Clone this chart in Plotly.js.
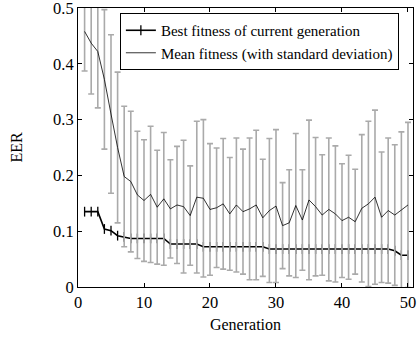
<!DOCTYPE html>
<html>
<head>
<meta charset="utf-8">
<script src="https://cdn.plot.ly/plotly-3.0.1.min.js"></script>
<style>html,body{margin:0;padding:0;background:#fff;}#chart{width:418px;height:338px;}</style>
</head>
<body>
<div id="chart"></div>
<script>
const generations = [1,2,3,4,5,6,7,8,9,10,11,12,13,14,15,16,17,18,19,20,21,22,23,24,25,26,27,28,29,30,31,32,33,34,35,36,37,38,39,40,41,42,43,44,45,46,47,48,49,50];
const bestFitness = [0.135,0.135,0.135,0.104,0.101,0.092,0.090,0.087,0.087,0.087,0.087,0.087,0.087,0.077,0.077,0.077,0.077,0.077,0.072,0.072,0.072,0.072,0.072,0.072,0.072,0.072,0.072,0.072,0.068,0.068,0.068,0.068,0.068,0.068,0.068,0.068,0.068,0.068,0.068,0.068,0.068,0.068,0.068,0.068,0.068,0.068,0.068,0.065,0.057,0.057];
const meanFitness = [0.458,0.437,0.422,0.372,0.310,0.250,0.198,0.189,0.165,0.155,0.166,0.143,0.158,0.140,0.147,0.144,0.128,0.161,0.159,0.139,0.142,0.149,0.131,0.147,0.135,0.140,0.147,0.124,0.137,0.145,0.110,0.115,0.146,0.120,0.156,0.144,0.129,0.139,0.131,0.119,0.125,0.117,0.141,0.149,0.161,0.125,0.137,0.129,0.138,0.147];
const stdFitness = [0.071,0.091,0.101,0.125,0.142,0.135,0.126,0.126,0.114,0.109,0.122,0.102,0.119,0.088,0.105,0.119,0.089,0.136,0.141,0.118,0.107,0.117,0.101,0.120,0.112,0.127,0.134,0.105,0.129,0.137,0.077,0.095,0.129,0.090,0.143,0.124,0.108,0.128,0.122,0.102,0.111,0.094,0.132,0.148,0.156,0.117,0.130,0.126,0.140,0.148];
const xTicks = [0,10,20,30,40,50];
const yTicks = [0,0.1,0.2,0.3,0.4,0.5];
const yTickLabels = ["0","0.1","0.2","0.3","0.4","0.5"];

const font = "Liberation Serif, Times New Roman, serif";

const traces = [
  {
    x: generations, y: bestFitness, type: 'scatter', mode: 'lines+markers',
    name: 'Best fitness of current generation',
    line: {color: 'black', width: 1.6},
    marker: {symbol: 'line-ns', size: 7, color: 'black', line: {color: 'black', width: 1.3}}
  },
  {
    x: generations, y: meanFitness, type: 'scatter', mode: 'lines',
    name: 'Mean fitness (with standard deviation)',
    line: {color: 'black', width: 0.8},
    error_y: {type: 'data', array: stdFitness, visible: true, color: 'rgb(170,170,170)', thickness: 1.6, width: 3}
  }
];

const axisCommon = {
  showline: true, linecolor: 'black', linewidth: 1, mirror: 'ticks',
  ticks: 'inside', ticklen: 4, tickcolor: 'black', tickwidth: 1,
  showgrid: false, zeroline: false, ticklabeloverflow: 'allow',
  tickfont: {family: font, size: 16.5, color: 'black'}
};

const layout = {
  width: 418, height: 338,
  margin: {l: 78, r: 5, t: 8, b: 51},
  paper_bgcolor: 'white', plot_bgcolor: 'white',
  showlegend: true,
  legend: {
    x: 0.125, y: 0.982, xanchor: 'left', yanchor: 'top',
    bgcolor: 'white', bordercolor: 'black', borderwidth: 1,
    font: {family: font, size: 15, color: 'black'},
    tracegroupgap: 0, itemwidth: 30
  },
  xaxis: Object.assign({}, axisCommon, {
    range: [0, 50.76], tickvals: xTicks,
    title: {text: 'Generation', font: {family: font, size: 16, color: 'black'}, standoff: 8}
  }),
  yaxis: Object.assign({}, axisCommon, {
    range: [0, 0.5], tickvals: yTicks, ticktext: yTickLabels,
    title: {text: 'EER', font: {family: font, size: 16, color: 'black'}, standoff: 26}
  })
};

Plotly.newPlot('chart', traces, layout, {displayModeBar: false, staticPlot: true});
</script>
</body>
</html>
